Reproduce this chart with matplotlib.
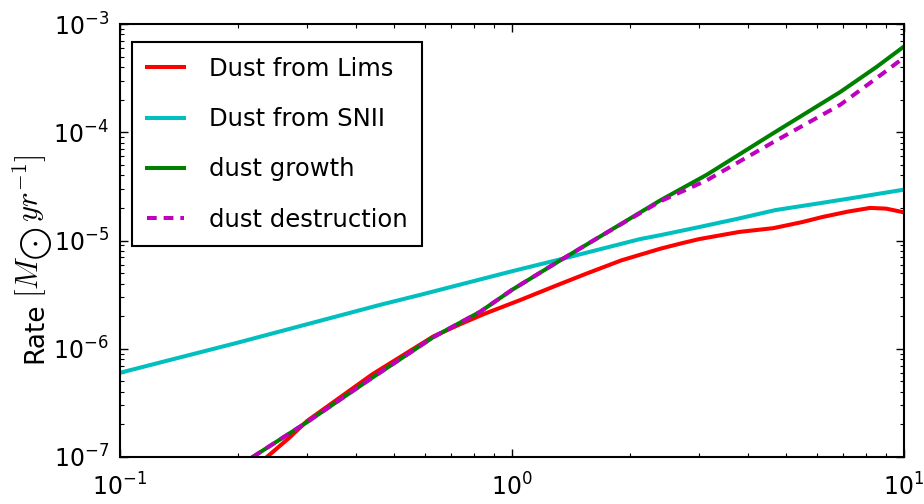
import matplotlib
matplotlib.use("Agg")
import matplotlib.pyplot as plt

# Dust production / destruction rates vs. time
lims_x = [0.22, 0.237, 0.27, 0.30, 0.44, 0.63, 0.736, 0.85, 1.05, 1.3, 1.55, 1.9,
          2.39, 2.7, 3.0, 3.8, 4.64, 5.5, 6.2, 7.2, 8.2, 9.0, 10.0]
lims_y = [8.0e-8, 1.0e-7, 1.5e-7, 2.15e-7, 5.8e-7, 1.3e-6, 1.68e-6, 2.1e-6, 2.82e-6,
          3.85e-6, 4.95e-6, 6.55e-6, 8.4e-6, 9.4e-6, 1.03e-5, 1.2e-5, 1.3e-5, 1.48e-5,
          1.65e-5, 1.85e-5, 2.0e-5, 1.97e-5, 1.82e-5]

snii_x = [0.1, 0.2, 0.46, 0.582, 1.0, 1.35, 2.12, 2.39, 3.0, 3.8, 4.7, 6.0, 7.4, 10.0]
snii_y = [6.0e-7, 1.14e-6, 2.54e-6, 3.14e-6, 5.2e-6, 6.8e-6, 1.03e-5, 1.12e-5,
          1.33e-5, 1.6e-5, 1.91e-5, 2.19e-5, 2.47e-5, 2.95e-5]

growth_x = [0.20, 0.218, 0.30, 0.44, 0.63, 0.83, 1.0, 1.35, 1.7, 2.39, 3.14, 4.64,
            6.87, 8.5, 10.0]
growth_y = [8.3e-8, 1.0e-7, 2.1e-7, 5.4e-7, 1.28e-6, 2.2e-6, 3.5e-6, 6.8e-6, 1.12e-5,
            2.35e-5, 4.05e-5, 9.8e-5, 2.35e-4, 4.0e-4, 6.2e-4]

destr_x = [0.20, 0.218, 0.30, 0.44, 0.63, 0.83, 1.0, 1.35, 1.7, 2.39, 3.14, 4.64,
           6.87, 8.5, 10.0]
destr_y = [8.3e-8, 1.0e-7, 2.1e-7, 5.4e-7, 1.28e-6, 2.2e-6, 3.5e-6, 6.8e-6, 1.12e-5,
           2.3e-5, 3.6e-5, 8.1e-5, 1.79e-4, 3.15e-4, 4.9e-4]

labels = ["Dust from Lims", "Dust from SNII", "dust growth", "dust destruction"]

plt.rcParams["font.family"] = ["DejaVu Sans"]
plt.rcParams["mathtext.fontset"] = "cm"
plt.rcParams["lines.scale_dashes"] = False

fig = plt.figure(figsize=(9.24, 5.04), dpi=100)
ax = fig.add_axes([120 / 924, 1 - 457 / 504, 784 / 924, 433 / 504])

lw = 2.9
ax.plot(lims_x, lims_y, color=(1, 0, 0), lw=lw, label=labels[0])
ax.plot(snii_x, snii_y, color=(0, 0.75, 0.75), lw=lw, label=labels[1])
ax.plot(growth_x, growth_y, color=(0, 0.5, 0), lw=lw, label=labels[2])
ax.plot(destr_x, destr_y, color=(0.75, 0, 0.75), lw=lw, dashes=[7, 5], label=labels[3])

ax.set_xscale("log")
ax.set_yscale("log")
ax.set_xlim(0.1, 10)
ax.set_ylim(1e-7, 1e-3)

for s in ax.spines.values():
    s.set_linewidth(1.5)
ax.tick_params(which="both", direction="in", top=True, right=True, labelsize=17)
ax.tick_params(which="major", length=6, width=1)
ax.tick_params(which="minor", length=3, width=0.8)
ax.tick_params(axis="x", pad=12)
ax.tick_params(axis="y", pad=8)

# y-axis title: sans-serif word followed by the unit in math type
fig.text(42 / 924, 1 - 363 / 504, "Rate", fontsize=19, rotation=90,
         rotation_mode="anchor", ha="left", va="baseline")
fig.text(39 / 924, 1 - 298 / 504, r"$[M_{\bigodot}\,yr^{-1}]$", fontsize=22,
         rotation=90, rotation_mode="anchor", ha="left", va="baseline")

leg = ax.legend(loc="upper left", bbox_to_anchor=(0.0153, 0.958), borderaxespad=0,
                fontsize=17.5, handlelength=1.55, handletextpad=1.03, labelspacing=1.08,
                borderpad=0.6, fancybox=False, framealpha=1)
leg.get_frame().set_edgecolor("black")
leg.get_frame().set_linewidth(1.5)

fig.savefig("out.png", dpi=100)
